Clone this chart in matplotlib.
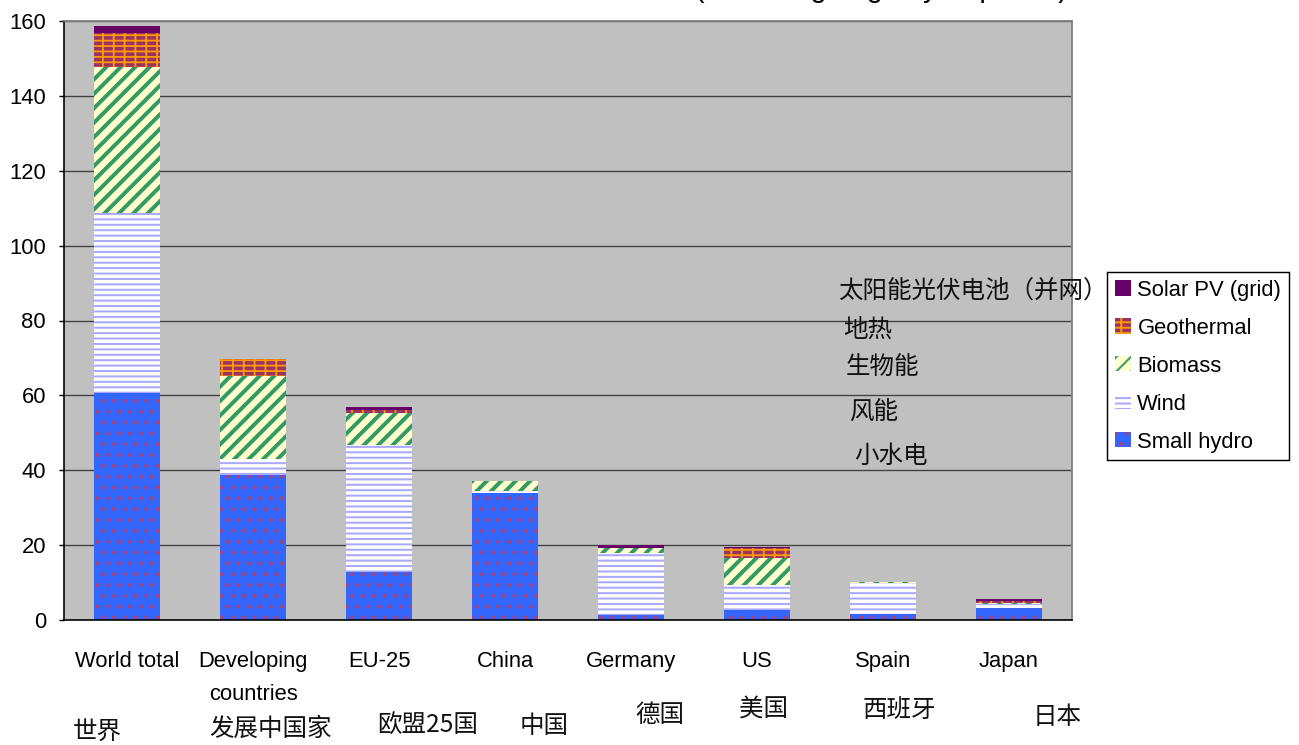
import matplotlib
matplotlib.use("Agg")
import matplotlib.pyplot as plt
import numpy as np

# ---- data (GW) ----
categories = ["World total", "Developing\ncountries", "EU-25", "China",
              "Germany", "US", "Spain", "Japan"]
categories_cn = ["世界", "发展中国家", "欧盟25国", "中国", "德国", "美国", "西班牙", "日本"]

small_hydro = [60.6, 38.7, 12.8, 33.8, 1.4, 2.7, 1.5, 3.3]
wind        = [48.0, 4.3, 33.9, 0.6, 16.5, 6.7, 8.3, 1.0]
biomass     = [39.2, 22.3, 8.6, 2.7, 1.2, 7.2, 0.4, 0.35]
geothermal  = [9.1, 4.4, 0.7, 0.0, 0.0, 2.7, 0.0, 0.35]
solar_pv    = [1.75, 0.0, 0.8, 0.0, 0.85, 0.3, 0.0, 0.6]

series_names = ["Small hydro", "Wind", "Biomass", "Geothermal", "Solar PV (grid)"]
series_cn = ["小水电", "风能", "生物能", "地热", "太阳能光伏电池（并网）"]
yticks = [0, 20, 40, 60, 80, 100, 120, 140, 160]
title_text = "(excluding large hydropower)"

# ---- styling ----
DPI = 130
W, H = 1299, 745
plt.rcParams["font.family"] = ["Liberation Sans", "DejaVu Sans"]
plt.rcParams["hatch.linewidth"] = 1.1
CJK = ["Noto Sans CJK SC", "DejaVu Sans"]

styles = [
    dict(color="#3366FF", edgecolor="#A8407A", hatch=".."),      # small hydro
    dict(color="#FFFFFF", edgecolor="#A8A8FF", hatch="----"),    # wind
    dict(color="#FFFFCC", edgecolor="#339966", hatch="///"),     # biomass
    dict(color="#993366", edgecolor="#FF9900", hatch="----||"),  # geothermal
    dict(color="#660066", edgecolor="#660066", hatch=None),      # solar
]
hatch_lw = [1.0, 1.1, 2.2, 1.0, 1.0]

fig = plt.figure(figsize=(W / DPI, H / DPI), dpi=DPI)
ax = fig.add_axes([64 / W, 125 / H, (1072 - 64) / W, (620 - 21) / H])
ax.set_facecolor("#C0C0C0")

x = np.arange(len(categories))
values = [small_hydro, wind, biomass, geothermal, solar_pv]
bottom = np.zeros(len(categories))
handles = []
for name, vals, st, hlw in zip(series_names, values, styles, hatch_lw):
    with plt.rc_context({"hatch.linewidth": hlw}):
        bars = ax.bar(x, vals, width=0.52, bottom=bottom, linewidth=0,
                      label=name, zorder=2, **st)
        for p in bars.patches:
            if hasattr(p, "set_hatch_linewidth"):
                p.set_hatch_linewidth(hlw)
    handles.append(bars)
    bottom = bottom + np.asarray(vals)

ax.set_xlim(-0.5, len(categories) - 0.5)
ax.set_ylim(0, 160)
ax.set_yticks(yticks)
ax.yaxis.grid(True, color="#404040", linewidth=0.75, zorder=1)
ax.set_axisbelow(True)

ax.set_xticks(x, categories, fontsize=12.2, linespacing=1.75)
ax.tick_params(axis="x", length=0, pad=17)
ax.tick_params(axis="y", labelsize=12.2, length=2.5, width=0.8, direction="out", pad=7.5)

for side in ("left", "bottom"):
    ax.spines[side].set_color("#000000")
    ax.spines[side].set_linewidth(0.9)
for side in ("top", "right"):
    ax.spines[side].set_color("#808080")
    ax.spines[side].set_linewidth(1.0)

# legend, top series first
leg = ax.legend(handles[::-1], series_names[::-1], loc="upper left",
                bbox_to_anchor=(1107 / W, (H - 272) / H),
                bbox_transform=fig.transFigure, borderaxespad=0,
                fontsize=12.2, frameon=True, fancybox=False,
                edgecolor="#000000", facecolor="#FFFFFF", framealpha=1,
                handlelength=0.73, handleheight=0.68, handletextpad=0.3,
                labelspacing=0.77, borderpad=0.35)
leg.get_frame().set_linewidth(0.8)

# Chinese names of the series, stacked beside the legend
cn_series_pos = [(854, 456), (849, 412), (846, 367), (843, 330), (838, 291)]
for txt, (px, py) in zip(series_cn, cn_series_pos):
    fig.text(px / W, (H - py) / H, txt, family=CJK, fontsize=13.6,
             ha="left", va="center", color="#111111", zorder=5)

# Chinese names of the categories under the axis
cn_offsets = [(-30, -112), (18, -109), (49, -105), (39, -106),
              (29, -95), (6, -89), (16, -90), (48, -97)]
for i, (txt, (dx, dy)) in enumerate(zip(categories_cn, cn_offsets)):
    ax.annotate(txt, xy=(x[i], 0), xycoords=("data", "axes fraction"),
                xytext=(dx, dy), textcoords="offset pixels",
                family=CJK, fontsize=13.6, ha="center", va="center",
                color="#111111", annotation_clip=False)

# title line sitting at the very top edge
fig.text(1068 / W, (H + 3) / H, title_text, fontsize=16, ha="right",
         va="baseline", color="#000000")

fig.savefig("out.png", dpi=DPI)
